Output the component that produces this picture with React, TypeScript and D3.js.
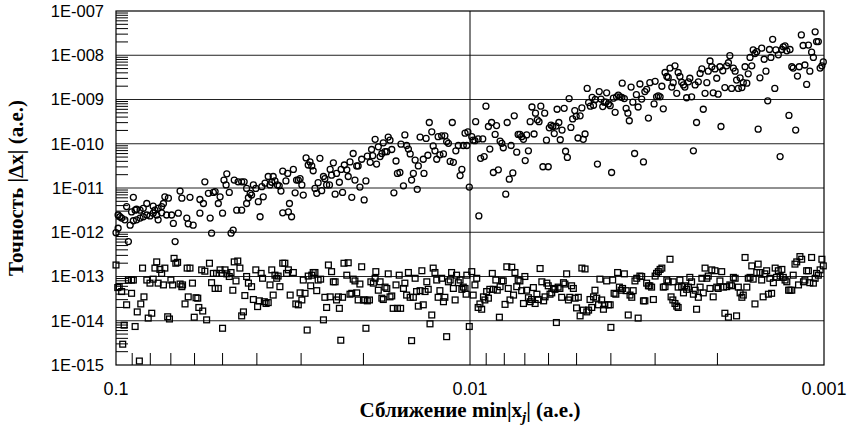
import React, { useEffect, useRef } from "react";
import * as d3 from "d3";

// Canvas and plot frame
const WIDTH = 849;
const HEIGHT = 428;
const PLOT = { left: 116, right: 824, top: 11, bottom: 365 };

// Axis ticks
const xTickValues = [0.1, 0.01, 0.001];
const xTickLabels = ["0.1", "0.01", "0.001"];
const yTickValues = [1e-15, 1e-14, 1e-13, 1e-12, 1e-11, 1e-10, 1e-9, 1e-8, 1e-7];
const yTickLabels = ["1E-015", "1E-014", "1E-013", "1E-012", "1E-011", "1E-010", "1E-009", "1E-008", "1E-007"];

// Upper series (circles): log10 of approach distance and log10 of accuracy
const circleLogX = [
  -1.000, -1.006, -1.006, -1.011, -1.016, -1.025, -1.030, -1.035, -1.040, -1.044,
  -1.049, -1.049, -1.054, -1.058, -1.058, -1.068, -1.068, -1.077, -1.077, -1.087,
  -1.087, -1.096, -1.105, -1.105, -1.110, -1.115, -1.119, -1.119, -1.129, -1.129,
  -1.134, -1.138, -1.143, -1.148, -1.157, -1.162, -1.167, -1.176, -1.181, -1.186,
  -1.200, -1.204, -1.209, -1.218, -1.237, -1.237, -1.247, -1.251, -1.261, -1.266,
  -1.270, -1.275, -1.280, -1.289, -1.294, -1.301, -1.305, -1.311, -1.313, -1.320,
  -1.325, -1.331, -1.334, -1.341, -1.345, -1.355, -1.355, -1.362, -1.369, -1.369,
  -1.374, -1.379, -1.383, -1.388, -1.395, -1.402, -1.407, -1.412, -1.416, -1.421,
  -1.430, -1.435, -1.440, -1.444, -1.449, -1.456, -1.461, -1.466, -1.471, -1.471,
  -1.480, -1.485, -1.487, -1.490, -1.496, -1.501, -1.506, -1.510, -1.515, -1.520,
  -1.525, -1.529, -1.537, -1.543, -1.548, -1.553, -1.557, -1.562, -1.567, -1.571,
  -1.576, -1.581, -1.586, -1.590, -1.595, -1.603, -1.605, -1.609, -1.614, -1.619,
  -1.623, -1.631, -1.636, -1.640, -1.645, -1.652, -1.656, -1.661, -1.666, -1.670,
  -1.675, -1.680, -1.684, -1.689, -1.694, -1.701, -1.706, -1.710, -1.718, -1.722,
  -1.725, -1.732, -1.736, -1.741, -1.746, -1.751, -1.755, -1.760, -1.765, -1.769,
  -1.774, -1.779, -1.785, -1.791, -1.795, -1.802, -1.805, -1.812, -1.816, -1.821,
  -1.826, -1.831, -1.835, -1.840, -1.845, -1.851, -1.854, -1.859, -1.868, -1.870,
  -1.876, -1.881, -1.885, -1.892, -1.896, -1.901, -1.906, -1.910, -1.915, -1.920,
  -1.925, -1.929, -1.934, -1.939, -1.944, -1.950, -1.953, -1.960, -1.967, -1.972,
  -1.977, -1.981, -1.986, -1.991, -1.994, -1.998, -2.005, -2.009, -2.014, -2.016,
  -2.023, -2.025, -2.030, -2.036, -2.040, -2.045, -2.052, -2.056, -2.061, -2.066,
  -2.071, -2.075, -2.080, -2.085, -2.090, -2.094, -2.101, -2.105, -2.111, -2.116,
  -2.121, -2.125, -2.132, -2.136, -2.141, -2.146, -2.151, -2.156, -2.160, -2.165,
  -2.170, -2.175, -2.181, -2.185, -2.190, -2.195, -2.200, -2.206, -2.211, -2.216,
  -2.221, -2.224, -2.229, -2.234, -2.238, -2.243, -2.246, -2.251, -2.255, -2.260,
  -2.266, -2.270, -2.275, -2.280, -2.285, -2.290, -2.296, -2.300, -2.305, -2.311,
  -2.316, -2.320, -2.325, -2.331, -2.335, -2.340, -2.345, -2.349, -2.354, -2.360,
  -2.365, -2.370, -2.375, -2.379, -2.384, -2.386, -2.391, -2.396, -2.400, -2.405,
  -2.410, -2.414, -2.419, -2.424, -2.429, -2.430, -2.436, -2.441, -2.446, -2.450,
  -2.455, -2.460, -2.465, -2.470, -2.475, -2.480, -2.485, -2.490, -2.494, -2.499,
  -2.504, -2.508, -2.520, -2.523, -2.527, -2.532, -2.537, -2.542, -2.546, -2.551,
  -2.556, -2.560, -2.565, -2.570, -2.574, -2.579, -2.584, -2.588, -2.593, -2.598,
  -2.603, -2.607, -2.612, -2.617, -2.621, -2.626, -2.631, -2.636, -2.640, -2.645,
  -2.650, -2.655, -2.659, -2.664, -2.669, -2.673, -2.678, -2.683, -2.687, -2.692,
  -2.697, -2.701, -2.706, -2.709, -2.714, -2.720, -2.725, -2.730, -2.734, -2.739,
  -2.744, -2.749, -2.753, -2.758, -2.763, -2.768, -2.772, -2.777, -2.782, -2.786,
  -2.791, -2.796, -2.800, -2.805, -2.810, -2.814, -2.819, -2.824, -2.831, -2.836,
  -2.841, -2.846, -2.850, -2.855, -2.861, -2.864, -2.871, -2.876, -2.881, -2.885,
  -2.890, -2.895, -2.901, -2.904, -2.909, -2.913, -2.920, -2.925, -2.930, -2.936,
  -2.941, -2.946, -2.951, -2.956, -2.960, -2.965, -2.970, -2.975, -2.979, -2.984,
  -2.989, -2.994, -2.998,
];
const circleLogY = [
  -12.01, -11.91, -11.61, -11.65, -11.68, -11.72, -11.42, -12.21, -11.84, -11.54,
  -11.74, -11.21, -11.50, -11.72, -11.48, -11.68, -11.50, -11.65, -11.46, -11.61,
  -11.35, -11.63, -11.57, -11.41, -11.50, -11.61, -11.72, -11.46, -11.56, -11.42,
  -11.35, -11.20, -11.61, -11.23, -11.61, -11.80, -12.21, -11.57, -11.07, -11.23,
  -11.68, -11.81, -11.21, -11.84, -11.26, -11.57, -11.35, -10.86, -11.12, -11.68,
  -12.02, -11.10, -11.08, -11.35, -11.20, -11.57, -10.82, -10.93, -10.68, -11.10,
  -12.02, -11.95, -10.82, -11.50, -10.86, -10.86, -11.50, -10.86, -11.01, -11.35,
  -11.22, -11.12, -11.16, -10.93, -11.01, -11.31, -11.65, -10.97, -11.20, -10.89,
  -10.74, -10.93, -10.87, -10.74, -10.84, -10.93, -10.95, -11.07, -10.62, -11.56,
  -10.84, -10.67, -11.54, -11.35, -11.65, -10.58, -11.11, -10.82, -10.82, -10.79,
  -10.93, -11.16, -10.32, -10.48, -10.41, -10.50, -10.61, -11.01, -11.12, -10.88,
  -10.33, -11.06, -10.74, -10.79, -10.93, -10.93, -10.58, -10.71, -10.43, -11.14,
  -10.67, -10.87, -10.58, -11.10, -10.48, -10.59, -10.74, -10.41, -11.21, -10.22,
  -10.82, -10.50, -10.50, -10.98, -10.35, -11.27, -10.84, -10.28, -10.42, -10.13,
  -10.27, -9.90, -10.46, -10.07, -10.29, -10.22, -9.98, -10.18, -10.18, -9.85,
  -9.92, -10.13, -11.11, -10.39, -10.67, -10.65, -10.01, -10.95, -9.80, -10.04,
  -10.12, -10.23, -10.82, -10.67, -10.37, -11.03, -10.50, -9.85, -10.35, -10.67,
  -9.88, -10.26, -9.52, -9.73, -10.05, -10.16, -10.35, -9.84, -10.25, -9.82,
  -10.23, -9.82, -9.95, -9.99, -10.40, -9.52, -10.42, -10.16, -10.04, -10.72,
  -10.58, -10.04, -9.76, -10.04, -9.73, -10.98, -9.84, -9.92, -9.93, -9.50,
  -9.89, -11.63, -10.33, -9.89, -10.29, -9.15, -9.61, -10.12, -9.52, -10.65,
  -9.79, -9.59, -10.59, -9.94, -9.99, -10.09, -11.14, -9.52, -10.80, -10.04,
  -10.66, -9.37, -10.19, -9.79, -9.79, -9.84, -9.90, -10.38, -9.80, -10.16,
  -9.50, -9.17, -9.78, -9.31, -9.46, -9.50, -9.15, -10.52, -9.31, -9.92,
  -10.52, -9.64, -9.58, -9.61, -9.77, -9.60, -9.22, -9.52, -9.91, -9.69,
  -9.20, -10.17, -10.31, -8.98, -9.63, -9.44, -9.25, -9.38, -9.87, -9.37,
  -9.19, -9.90, -9.78, -8.75, -9.07, -9.15, -8.95, -9.13, -9.00, -10.46,
  -8.82, -8.99, -9.16, -9.06, -9.06, -8.85, -9.10, -9.14, -10.65, -8.97,
  -9.29, -8.94, -8.90, -8.94, -8.95, -8.63, -8.98, -9.20, -9.31, -9.48,
  -8.72, -9.06, -10.22, -8.89, -9.17, -8.65, -8.99, -10.41, -8.82, -8.77,
  -9.42, -8.62, -9.10, -8.59, -8.94, -8.92, -8.94, -8.70, -9.21, -8.39,
  -8.48, -8.50, -8.29, -8.72, -8.62, -8.24, -8.86, -8.39, -8.48, -8.61,
  -8.67, -8.72, -8.96, -8.60, -8.52, -8.94, -10.16, -8.67, -9.52, -8.60,
  -8.41, -8.31, -9.22, -8.86, -8.62, -8.36, -8.13, -8.26, -8.85, -8.31,
  -8.52, -8.88, -8.26, -9.61, -8.35, -8.73, -8.24, -8.17, -8.01, -8.75,
  -8.29, -8.36, -8.56, -8.75, -8.51, -8.73, -8.62, -8.26, -8.63, -8.42,
  -8.05, -8.24, -7.88, -7.96, -7.92, -9.67, -8.51, -7.84, -8.09, -8.36,
  -9.03, -7.87, -8.05, -7.64, -8.75, -7.88, -7.99, -10.29, -7.87, -7.81,
  -7.79, -7.90, -9.36, -7.87, -8.26, -8.29, -9.69, -8.47, -8.26, -7.54,
  -7.78, -8.22, -8.66, -7.77, -8.36, -7.93, -8.05, -7.47, -7.69, -7.69,
  -8.29, -8.24, -8.15,
];

// Lower series (squares): log10 of approach distance and log10 of accuracy
const squareLogX = [
  -1.000, -1.005, -1.009, -1.016, -1.019, -1.023, -1.030, -1.035, -1.044, -1.044,
  -1.049, -1.054, -1.060, -1.066, -1.070, -1.075, -1.079, -1.087, -1.091, -1.096,
  -1.101, -1.105, -1.110, -1.115, -1.119, -1.124, -1.129, -1.134, -1.138, -1.146,
  -1.151, -1.155, -1.160, -1.164, -1.169, -1.174, -1.181, -1.186, -1.188, -1.195,
  -1.201, -1.204, -1.209, -1.216, -1.221, -1.226, -1.231, -1.234, -1.242, -1.245,
  -1.251, -1.256, -1.264, -1.270, -1.275, -1.280, -1.284, -1.289, -1.294, -1.299,
  -1.301, -1.308, -1.313, -1.320, -1.325, -1.330, -1.334, -1.339, -1.344, -1.350,
  -1.355, -1.360, -1.364, -1.369, -1.374, -1.383, -1.388, -1.395, -1.400, -1.405,
  -1.410, -1.414, -1.419, -1.424, -1.430, -1.435, -1.440, -1.444, -1.449, -1.454,
  -1.458, -1.463, -1.471, -1.477, -1.482, -1.487, -1.492, -1.501, -1.508, -1.515,
  -1.520, -1.525, -1.529, -1.534, -1.540, -1.543, -1.550, -1.553, -1.557, -1.562,
  -1.567, -1.571, -1.578, -1.586, -1.590, -1.595, -1.600, -1.605, -1.609, -1.614,
  -1.619, -1.623, -1.628, -1.631, -1.635, -1.640, -1.644, -1.652, -1.656, -1.661,
  -1.666, -1.670, -1.675, -1.680, -1.684, -1.689, -1.694, -1.699, -1.703, -1.706,
  -1.710, -1.716, -1.720, -1.727, -1.732, -1.734, -1.741, -1.746, -1.751, -1.755,
  -1.760, -1.765, -1.769, -1.774, -1.779, -1.783, -1.791, -1.795, -1.800, -1.804,
  -1.812, -1.816, -1.821, -1.826, -1.831, -1.835, -1.840, -1.845, -1.849, -1.854,
  -1.859, -1.864, -1.868, -1.873, -1.878, -1.882, -1.887, -1.892, -1.896, -1.901,
  -1.906, -1.910, -1.915, -1.920, -1.925, -1.929, -1.934, -1.939, -1.944, -1.948,
  -1.953, -1.958, -1.962, -1.967, -1.972, -1.977, -1.981, -1.986, -1.989, -1.991,
  -1.998, -2.005, -2.009, -2.014, -2.019, -2.023, -2.028, -2.033, -2.038, -2.042,
  -2.047, -2.052, -2.056, -2.063, -2.066, -2.073, -2.077, -2.083, -2.085, -2.090,
  -2.094, -2.099, -2.104, -2.108, -2.113, -2.118, -2.123, -2.127, -2.132, -2.136,
  -2.141, -2.146, -2.151, -2.155, -2.160, -2.165, -2.170, -2.174, -2.179, -2.184,
  -2.189, -2.193, -2.198, -2.203, -2.208, -2.212, -2.217, -2.221, -2.226, -2.231,
  -2.236, -2.240, -2.244, -2.249, -2.254, -2.259, -2.264, -2.268, -2.273, -2.278,
  -2.282, -2.287, -2.292, -2.297, -2.301, -2.306, -2.311, -2.316, -2.320, -2.325,
  -2.330, -2.335, -2.339, -2.344, -2.349, -2.353, -2.358, -2.363, -2.367, -2.372,
  -2.377, -2.381, -2.386, -2.391, -2.396, -2.398, -2.403, -2.407, -2.412, -2.417,
  -2.422, -2.427, -2.431, -2.436, -2.441, -2.447, -2.452, -2.457, -2.461, -2.466,
  -2.471, -2.475, -2.480, -2.485, -2.490, -2.494, -2.499, -2.504, -2.508, -2.513,
  -2.518, -2.523, -2.527, -2.532, -2.537, -2.542, -2.546, -2.551, -2.556, -2.560,
  -2.565, -2.568, -2.573, -2.574, -2.579, -2.584, -2.588, -2.588, -2.593, -2.598,
  -2.603, -2.607, -2.612, -2.617, -2.621, -2.626, -2.631, -2.636, -2.640, -2.645,
  -2.650, -2.655, -2.659, -2.664, -2.669, -2.673, -2.678, -2.683, -2.687, -2.692,
  -2.697, -2.701, -2.706, -2.711, -2.716, -2.720, -2.725, -2.730, -2.734, -2.739,
  -2.744, -2.749, -2.753, -2.758, -2.763, -2.768, -2.772, -2.777, -2.782, -2.786,
  -2.791, -2.796, -2.800, -2.805, -2.810, -2.814, -2.819, -2.824, -2.828, -2.833,
  -2.838, -2.843, -2.847, -2.852, -2.857, -2.862, -2.866, -2.871, -2.876, -2.881,
  -2.885, -2.890, -2.895, -2.900, -2.904, -2.909, -2.913, -2.918, -2.923, -2.928,
  -2.932, -2.937, -2.942, -2.946, -2.951, -2.956, -2.960, -2.965, -2.970, -2.975,
  -2.979, -2.984, -2.989, -2.994, -2.998,
];
const squareLogY = [
  -12.74, -13.25, -13.23, -13.34, -14.53, -14.10, -13.64, -13.08, -13.08, -13.38,
  -13.08, -14.13, -13.80, -14.91, -13.62, -12.81, -13.46, -13.08, -13.94, -13.15,
  -13.83, -13.06, -12.81, -12.67, -13.15, -12.84, -12.93, -13.19, -12.81, -13.91,
  -13.96, -13.08, -13.19, -12.59, -12.70, -12.68, -13.17, -13.23, -13.19, -13.62,
  -12.81, -13.46, -12.81, -13.15, -13.92, -13.48, -13.49, -13.70, -12.85, -13.78,
  -12.88, -13.98, -12.70, -13.14, -12.93, -13.27, -12.93, -13.27, -12.85, -12.93,
  -14.17, -12.85, -12.94, -13.00, -12.91, -13.31, -12.67, -13.10, -12.65, -12.81,
  -13.89, -13.80, -13.43, -13.00, -13.15, -13.23, -13.52, -12.85, -13.68, -13.55,
  -12.93, -13.04, -13.57, -13.61, -13.59, -13.19, -12.85, -13.42, -12.97, -13.04,
  -12.99, -13.23, -12.70, -12.70, -12.93, -12.85, -13.42, -12.91, -13.62, -13.64,
  -13.37, -13.53, -13.08, -13.38, -14.21, -12.99, -13.21, -12.97, -12.91, -12.91,
  -13.32, -13.08, -13.06, -13.98, -13.47, -13.70, -12.74, -13.46, -12.89, -13.12,
  -13.12, -13.53, -13.46, -13.72, -14.44, -13.47, -12.70, -12.97, -12.69, -13.40,
  -13.38, -13.06, -13.10, -13.37, -13.53, -13.17, -12.78, -13.53, -13.53, -14.17,
  -13.55, -13.53, -13.12, -13.15, -13.04, -12.89, -13.31, -13.12, -13.49, -13.52,
  -13.24, -13.27, -12.94, -13.46, -13.44, -13.72, -13.19, -13.72, -12.97, -13.72,
  -13.27, -13.15, -13.42, -12.91, -13.47, -14.45, -13.47, -13.04, -13.34, -13.67,
  -13.32, -12.87, -13.64, -13.34, -13.12, -13.29, -14.07, -13.87, -12.81, -12.91,
  -13.08, -13.47, -13.32, -13.04, -13.57, -13.47, -14.36, -13.12, -13.08, -12.91,
  -13.27, -13.53, -12.97, -13.14, -13.08, -13.29, -13.24, -13.27, -13.40, -12.97,
  -14.13, -12.89, -13.42, -13.19, -13.04, -13.70, -13.62, -13.74, -13.46, -13.53,
  -13.34, -13.49, -13.29, -12.93, -13.29, -13.08, -13.31, -13.92, -13.23, -13.10,
  -13.10, -13.63, -12.78, -13.27, -13.53, -12.79, -13.42, -12.91, -13.23, -13.08,
  -13.10, -13.32, -13.61, -13.00, -13.31, -13.48, -13.57, -13.52, -13.25, -13.61,
  -13.40, -13.52, -12.82, -13.12, -13.55, -13.46, -13.15, -13.21, -13.40, -13.37,
  -13.27, -13.29, -14.04, -13.24, -13.27, -13.47, -13.14, -13.17, -12.94, -13.53,
  -13.47, -13.21, -13.27, -13.49, -13.71, -13.47, -13.89, -12.81, -13.76, -12.83,
  -13.80, -13.76, -13.52, -13.70, -13.46, -13.31, -13.49, -13.64, -13.06, -13.53,
  -13.74, -13.64, -13.10, -13.64, -13.64, -14.15, -13.08, -13.38, -13.40, -12.91,
  -13.24, -13.31, -13.27, -12.94, -13.32, -13.87, -13.42, -13.47, -13.32, -13.10,
  -13.04, -13.94, -12.99, -13.00, -13.55, -13.55, -13.15, -13.21, -13.21, -13.24,
  -13.52, -12.99, -12.93, -12.89, -12.84, -12.81, -13.24, -13.23, -13.08, -13.12,
  -12.61, -13.46, -13.53, -13.12, -13.61, -13.67, -13.70, -13.24, -13.08, -13.23,
  -13.37, -13.21, -13.29, -13.24, -13.02, -13.12, -13.40, -13.31, -13.74, -13.47,
  -13.24, -13.04, -13.37, -12.81, -13.04, -12.99, -13.27, -12.85, -13.46, -12.87,
  -13.24, -13.27, -13.10, -12.89, -13.24, -13.83, -13.23, -13.92, -13.19, -13.21,
  -13.02, -13.04, -13.89, -13.24, -13.37, -13.47, -13.42, -12.57, -13.24, -13.04,
  -13.02, -12.76, -13.06, -13.62, -12.91, -12.72, -12.91, -13.08, -13.46, -12.94,
  -12.87, -13.40, -13.04, -13.38, -13.14, -12.81, -13.02, -12.87, -12.99, -12.84,
  -13.02, -13.08, -13.12, -13.31, -13.31, -13.31, -12.97, -12.72, -12.67, -13.19,
  -12.55, -12.61, -13.12, -13.08, -12.87, -12.87, -13.14, -12.57, -13.15, -13.04,
  -12.93, -12.97, -12.85, -12.61, -12.76,
];

const circles = circleLogX.map((lx, i) => ({ x: 10 ** lx, y: 10 ** circleLogY[i] }));
const squares = squareLogX.map((lx, i) => ({ x: 10 ** lx, y: 10 ** squareLogY[i] }));

const SANS = "'Liberation Sans', Arial, Helvetica, sans-serif";
const SERIF = "'Liberation Serif', 'Times New Roman', Times, serif";

export default function App() {
  const ref = useRef<SVGSVGElement>(null);

  useEffect(() => {
    const svg = d3.select(ref.current);
    svg.selectAll("*").remove();

    const x = d3.scaleLog().domain([0.1, 0.001]).range([PLOT.left, PLOT.right]);
    const y = d3.scaleLog().domain([1e-15, 1e-7]).range([PLOT.bottom, PLOT.top]);

    svg.append("rect").attr("width", WIDTH).attr("height", HEIGHT).attr("fill", "#fff");

    const g = svg.append("g");

    // Decade grid lines
    g.selectAll("line.hgrid")
      .data(yTickValues.slice(1, -1))
      .join("line")
      .attr("class", "hgrid")
      .attr("x1", PLOT.left)
      .attr("x2", PLOT.right)
      .attr("y1", (d) => y(d))
      .attr("y2", (d) => y(d))
      .attr("stroke", "#222")
      .attr("stroke-width", 1);

    g.selectAll("line.vgrid")
      .data(xTickValues.slice(1, -1))
      .join("line")
      .attr("class", "vgrid")
      .attr("x1", (d) => x(d))
      .attr("x2", (d) => x(d))
      .attr("y1", PLOT.top)
      .attr("y2", PLOT.bottom)
      .attr("stroke", "#000")
      .attr("stroke-width", 1);

    // Minor ticks: 2..9 within each decade
    const yMinor: number[] = [];
    for (let k = -15; k < -7; k++) for (let n = 2; n <= 9; n++) yMinor.push(n * 10 ** k);
    const xMinor: number[] = [];
    for (let k = -3; k < -1; k++) for (let n = 2; n <= 9; n++) xMinor.push(n * 10 ** k);

    g.selectAll("line.yminor")
      .data(yMinor)
      .join("line")
      .attr("class", "yminor")
      .attr("x1", PLOT.left)
      .attr("x2", PLOT.left + 12)
      .attr("y1", (d) => y(d))
      .attr("y2", (d) => y(d))
      .attr("stroke", "#000")
      .attr("stroke-width", 1);

    g.selectAll("line.xminor")
      .data(xMinor)
      .join("line")
      .attr("class", "xminor")
      .attr("x1", (d) => x(d))
      .attr("x2", (d) => x(d))
      .attr("y1", PLOT.bottom)
      .attr("y2", PLOT.bottom - 12)
      .attr("stroke", "#000")
      .attr("stroke-width", 1);

    // Frame
    g.append("rect")
      .attr("x", PLOT.left)
      .attr("y", PLOT.top)
      .attr("width", PLOT.right - PLOT.left)
      .attr("height", PLOT.bottom - PLOT.top)
      .attr("fill", "none")
      .attr("stroke", "#000")
      .attr("stroke-width", 1.2);

    // Markers
    g.selectAll("rect.sq")
      .data(squares)
      .join("rect")
      .attr("class", "sq")
      .attr("x", (d) => x(d.x) - 2.9)
      .attr("y", (d) => y(d.y) - 2.9)
      .attr("width", 5.8)
      .attr("height", 5.8)
      .attr("fill", "none")
      .attr("stroke", "#000")
      .attr("stroke-width", 1.3);

    g.selectAll("circle.ci")
      .data(circles)
      .join("circle")
      .attr("class", "ci")
      .attr("cx", (d) => x(d.x))
      .attr("cy", (d) => y(d.y))
      .attr("r", 3)
      .attr("fill", "none")
      .attr("stroke", "#000")
      .attr("stroke-width", 1.3);

    // Tick labels
    g.selectAll("text.ylab")
      .data(yTickValues)
      .join("text")
      .attr("class", "ylab")
      .attr("x", 104)
      .attr("y", (d) => y(d))
      .attr("dy", "0.36em")
      .attr("text-anchor", "end")
      .attr("font-family", SANS)
      .attr("font-size", 16.5)
      .attr("fill", "#000")
      .text((_, i) => yTickLabels[i]);

    g.selectAll("text.xlab")
      .data(xTickValues)
      .join("text")
      .attr("class", "xlab")
      .attr("x", (d) => x(d))
      .attr("y", 395)
      .attr("text-anchor", "middle")
      .attr("font-family", SANS)
      .attr("font-size", 18)
      .attr("fill", "#000")
      .text((_, i) => xTickLabels[i]);

    // Axis titles
    const xt = g
      .append("text")
      .attr("x", (PLOT.left + PLOT.right) / 2)
      .attr("y", 417)
      .attr("text-anchor", "middle")
      .attr("font-family", SERIF)
      .attr("font-weight", "bold")
      .attr("font-size", 21)
      .attr("fill", "#000");
    xt.append("tspan").text("Сближение min|x");
    xt.append("tspan").attr("font-size", 15).attr("font-style", "italic").attr("dy", 5).text("j");
    xt.append("tspan").attr("dy", -5).text("| (а.е.)");

    g.append("text")
      .attr("transform", `translate(23, ${(PLOT.top + PLOT.bottom) / 2}) rotate(-90)`)
      .attr("text-anchor", "middle")
      .attr("font-family", SERIF)
      .attr("font-weight", "bold")
      .attr("font-size", 21)
      .attr("fill", "#000")
      .text("Точность |Δx| (а.е.)");
  }, []);

  return (
    <svg
      ref={ref}
      width={WIDTH}
      height={HEIGHT}
      style={{ position: "absolute", left: 0, top: 0, display: "block" }}
    />
  );
}
